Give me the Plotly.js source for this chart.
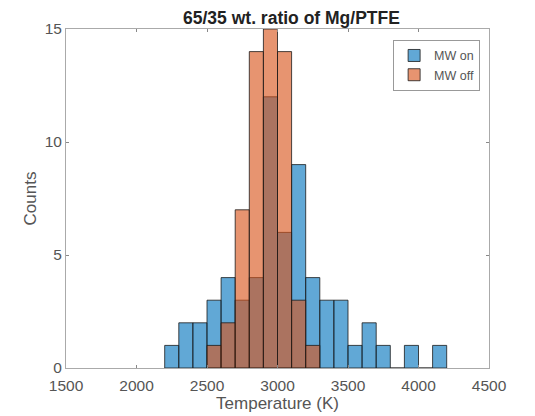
<!DOCTYPE html>
<html>
<head>
<meta charset="utf-8">
<script src="https://cdn.plot.ly/plotly-3.0.1.min.js"></script>
<style>html,body{margin:0;padding:0;background:#fff;}#chart{width:535px;height:416px;}</style>
</head>
<body>
<div id="chart"></div>
<script>
// Bin left edges (K), bin width 100 K
var binWidth = 100;
var onBinStarts = [2200,2300,2400,2500,2600,2700,2800,2900,3000,3100,3200,3300,3400,3500,3600,3700,3800,3900,4000,4100];
var onCounts    = [1,   2,   2,   3,   4,   3,   4,   12,  6,   9,   4,   3,   3,   1,   2,   1,   0,   1,   0,   1];
var offBinStarts = [2500,2600,2700,2800,2900,3000,3100,3200];
var offCounts    = [1,   2,   7,   14,  15,  14,  3,   1];
var seriesNames = ['MW on', 'MW off'];
var xTicks = [1500,2000,2500,3000,3500,4000,4500];
var yTicks = [0,5,10,15];

var traces = [
  {type:'bar', x:onBinStarts, y:onCounts, width:binWidth, offset:0, name:seriesNames[0],
   marker:{color:'rgba(0,114,189,0.62)', line:{color:'#1a1a1a', width:0.8}}},
  {type:'bar', x:offBinStarts, y:offCounts, width:binWidth, offset:0, name:seriesNames[1],
   marker:{color:'rgba(217,83,25,0.62)', line:{color:'#1a1a1a', width:0.8}}}
];

var fam = 'Liberation Sans, Arial, Helvetica, sans-serif';
var tickFont = {family:fam, size:15.5, color:'#555'};
var labFont = {family:fam, size:17, color:'#555'};
var layout = {
  width:535, height:416,
  margin:{l:66, r:46, t:29, b:48, pad:0},
  paper_bgcolor:'#fff', plot_bgcolor:'#fff',
  barmode:'overlay', bargap:0,
  showlegend:true,
  title:{text:'<b>65/35 wt. ratio of Mg/PTFE</b>', xref:'paper', x:0.533, xanchor:'center',
         yref:'container', y:0.957, yanchor:'middle',
         font:{family:fam, size:17.5, color:'#222'}},
  xaxis:{range:[1500,4500], tickvals:xTicks, ticktext:xTicks.map(String), ticks:'inside', ticklen:3,
         tickcolor:'#888', showline:true, linecolor:'#aaa', linewidth:1, mirror:'ticks', showgrid:false,
         zeroline:false, tickfont:tickFont, ticklabelstandoff:3,
         title:{text:'Temperature (K)', font:labFont, standoff:2}},
  yaxis:{range:[0,15], tickvals:yTicks, ticktext:yTicks.map(String), ticks:'inside', ticklen:3,
         tickcolor:'#888', showline:true, linecolor:'#aaa', linewidth:1, mirror:'ticks', showgrid:false,
         zeroline:false, tickfont:tickFont,
         title:{text:'Counts', font:labFont, standoff:3}},
  legend:{x:0.979, xanchor:'right', y:0.968, yanchor:'top', bgcolor:'#fff', bordercolor:'#999', borderwidth:1,
          font:{family:fam, size:12.5, color:'#555'},
          tracegroupgap:0, itemwidth:30}
};

Plotly.newPlot('chart', traces, layout, {displayModeBar:false, staticPlot:true});
</script>
</body>
</html>
